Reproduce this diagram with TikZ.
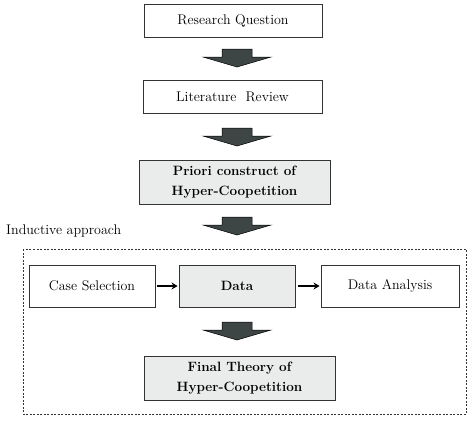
\documentclass[tikz,border=0pt]{standalone}
\usetikzlibrary{arrows.meta,calc}
\definecolor{boxgray}{HTML}{EAEBEB}
\definecolor{arrowgray}{HTML}{3E4545}
\definecolor{linegray}{HTML}{333333}
\begin{document}
\begin{tikzpicture}[x=1pt,y=-1pt,
  box/.style={draw=linegray,line width=0.9pt,minimum width=#1,align=center,inner sep=0pt,font=\fontsize{14}{20}\selectfont},
  graybox/.style={box=#1,fill=boxgray,font=\fontsize{13.5}{20}\selectfont\bfseries},
  conn/.style={line width=1.2pt,-{Stealth[length=6pt,width=7pt]}},
  blockarrow/.pic={\filldraw[fill=arrowgray,draw=black,line width=0.5pt]
    (-15,-9) -- (15,-9) -- (15,-1) -- (34,-1) -- (0,9) -- (-34,-1) -- (-15,-1) -- cycle;}
]
\useasboundingbox (0,0) rectangle (474,421);
\node[box=178pt,minimum height=33pt] (rq) at (233,20.5) {Research Question};
\node[box=179pt,minimum height=33pt] (lr) at (232.5,96.5) {Literature\ \ Review};
\node[graybox=191pt,minimum height=44pt] (pc) at (234.5,182) {Priori construct of\\Hyper-Coopetition};
\node[anchor=west,inner sep=0pt,font=\fontsize{14}{15}\selectfont] (ia) at (6,231) {Inductive approach};
\draw[linegray,line width=0.8pt,dash pattern=on 2pt off 1.5pt] (23,249) rectangle (466,414);
\node[box=126pt,minimum height=42pt] (cs) at (92,286) {Case Selection};
\node[graybox=116pt,minimum height=42pt] (da) at (237,286) {Data};
\node[box=138pt,minimum height=42pt] (an) at (390,286) {Data Analysis};
\node[graybox=191pt,minimum height=44pt] (ft) at (239.5,378) {Final Theory of\\Hyper-Coopetition};
\draw[conn] (cs.east) ++(2,0) -- ($(da.west)+(-1,0)$);
\draw[conn] (da.east) ++(3,0) -- ($(an.west)+(-1,0)$);
\pic at (237,58) {blockarrow};
\pic at (237,137) {blockarrow};
\pic at (237,226) {blockarrow};
\pic at (237,331) {blockarrow};
\end{tikzpicture}
\end{document}
